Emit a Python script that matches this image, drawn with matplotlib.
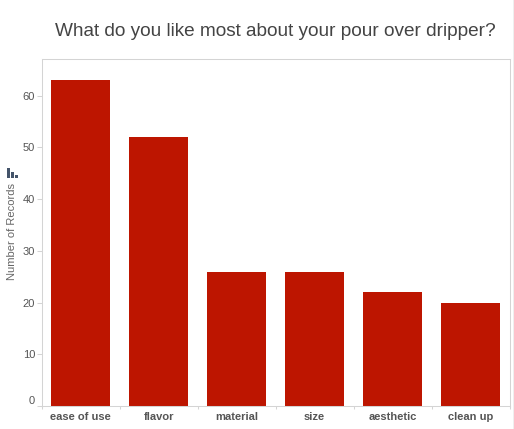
import matplotlib
matplotlib.use('agg')
import matplotlib.pyplot as plt
from matplotlib.patches import Rectangle

categories = ["ease of use", "flavor", "material", "size", "aesthetic", "clean up"]
records = [63, 52, 26, 26, 22, 20]
y_ticks = [0, 10, 20, 30, 40, 50, 60]

W, H = 514, 429
plt.rcParams['font.family'] = ['Liberation Sans', 'DejaVu Sans']

fig = plt.figure(figsize=(W / 100, H / 100), dpi=100)
# axes box in pixels: left 41.5, right 509.5, top 59, bottom 406
ax = fig.add_axes([41.5 / W, 1 - 406 / H, (509.5 - 41.5) / W, (406 - 59) / H])

x = range(len(categories))
ax.bar(x, records, width=0.755, color="#bd1500")

ax.set_xlim(-0.5, 5.5)
ax.set_ylim(0, 67.1)

for side in ["left", "bottom", "top", "right"]:
    ax.spines[side].set_color("#d4d4d4")
    ax.spines[side].set_linewidth(0.75)

ax.set_yticks(y_ticks)
ax.tick_params(axis="y", length=3.6, width=0.75, color="#d4d4d4", labelcolor="#555555",
               labelsize=8, pad=1)
# the zero label sits above its tick in the reference
ax.get_yticklabels()[0].set_verticalalignment("bottom")
ax.set_xticks([i - 0.5 for i in range(len(categories) + 1)], minor=False)
ax.set_xticklabels([])
ax.tick_params(axis="x", length=2.5, width=0.75, color="#d4d4d4")
for i, name in enumerate(categories):
    ax.annotate(name, xy=(i, 0), xycoords=("data", "axes fraction"),
                xytext=(0, -8), textcoords="offset points", ha="center", va="center",
                fontsize=8, fontweight="bold", color="#555555")

fig.text(12.5 / W, 1 - 231 / H, "Number of Records", rotation=90, ha="center", va="center",
         fontsize=8, color="#666666")

# small bar icon next to the axis title
for left, top, wid in [(7, 168, 3), (11, 172, 3), (15, 175, 3)]:
    fig.add_artist(Rectangle((left / W, 1 - 178 / H), wid / W, (178 - top) / H,
                             transform=fig.transFigure, color="#44546a", lw=0))

# faint window edge at the far right of the screenshot
fig.add_artist(Rectangle((512.5 / W, 0), 1 / W, 1, transform=fig.transFigure,
                         color="#efefef", lw=0))

fig.text(275.5 / W, 1 - 31 / H, "What do you like most about your pour over dripper?",
         ha="center", va="center", fontsize=13.7, color="#444444")

fig.savefig("out.png", dpi=100)
plt.close(fig)
